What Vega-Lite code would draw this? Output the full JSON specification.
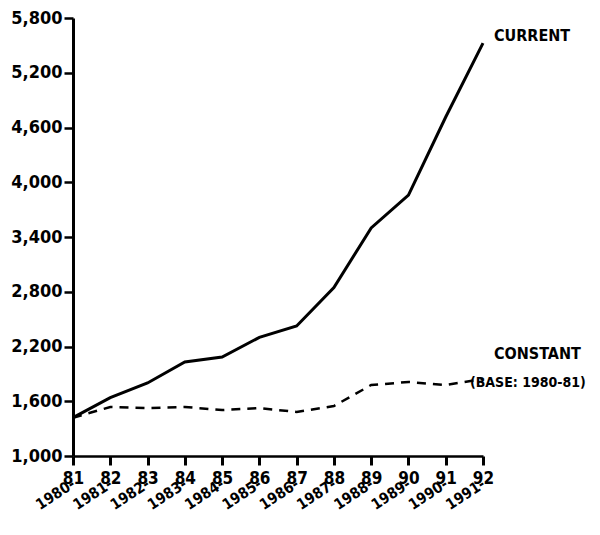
{
  "$schema": "https://vega.github.io/schema/vega-lite/v6.json",
  "autosize": "none",
  "padding": {"left": 73, "top": 18, "right": 117, "bottom": 79},
  "width": 410,
  "height": 438,
  "background": "white",
  "config": {
    "view": {"stroke": null},
    "font": "DejaVu Sans Condensed",
    "axis": {"grid": false, "domainColor": "black", "tickColor": "black", "labelColor": "black", "labelFont": "DejaVu Sans Condensed", "labelFontWeight": "bold"}
  },
  "datasets": {
    "main": [
      {"period": "1980-81", "series": "Current", "value": 1420},
      {"period": "1981-82", "series": "Current", "value": 1640},
      {"period": "1982-83", "series": "Current", "value": 1800},
      {"period": "1983-84", "series": "Current", "value": 2030},
      {"period": "1984-85", "series": "Current", "value": 2085},
      {"period": "1985-86", "series": "Current", "value": 2300},
      {"period": "1986-87", "series": "Current", "value": 2425},
      {"period": "1987-88", "series": "Current", "value": 2845},
      {"period": "1988-89", "series": "Current", "value": 3500},
      {"period": "1989-90", "series": "Current", "value": 3860},
      {"period": "1990-91", "series": "Current", "value": 4715},
      {"period": "1991-92", "series": "Current", "value": 5525},
      {"period": "1980-81", "series": "Constant", "value": 1420},
      {"period": "1981-82", "series": "Constant", "value": 1537},
      {"period": "1982-83", "series": "Constant", "value": 1526},
      {"period": "1983-84", "series": "Constant", "value": 1537},
      {"period": "1984-85", "series": "Constant", "value": 1504},
      {"period": "1985-86", "series": "Constant", "value": 1526},
      {"period": "1986-87", "series": "Constant", "value": 1482},
      {"period": "1987-88", "series": "Constant", "value": 1548},
      {"period": "1988-89", "series": "Constant", "value": 1778},
      {"period": "1989-90", "series": "Constant", "value": 1811},
      {"period": "1990-91", "series": "Constant", "value": 1778},
      {"period": "1991-92", "series": "Constant", "value": 1844}
    ],
    "notes": [
      {"period": "1991-92", "value": 5600, "label": "CURRENT"},
      {"period": "1991-92", "value": 2120, "label": "CONSTANT"}
    ],
    "base": [
      {"period": "1991-92", "value": 1800, "label": "(BASE: 1980-81)"}
    ]
  },
  "layer": [
    {
      "data": {"name": "main"},
      "transform": [{"filter": "datum.series === 'Current'"}],
      "mark": {"type": "line", "color": "black", "strokeWidth": 3},
      "encoding": {
        "x": {"field": "period", "type": "ordinal", "sort": null,
          "scale": {"type": "point", "padding": 0},
          "axis": {"title": null, "orient": "bottom", "labelAngle": 0, "labelBaseline": "top", "labelExpr": "split(datum.value, '-')[1]", "labelFontSize": 17, "labelPadding": 5, "tickSize": 9, "tickWidth": 3, "domainWidth": 2.5, "labelAlign": "center", "ticks": true}},
        "y": {"field": "value", "type": "quantitative",
          "scale": {"domain": [1000, 5800], "nice": false, "zero": false},
          "axis": {"title": null, "values": [1000, 1600, 2200, 2800, 3400, 4000, 4600, 5200, 5800], "labelExpr": "format(datum.value, ',')", "labelFontSize": 18, "tickSize": 9, "tickWidth": 2.5, "domainWidth": 3, "labelPadding": 2}}
      }
    },
    {
      "data": {"name": "main"},
      "transform": [{"filter": "datum.series === 'Constant'"}],
      "mark": {"type": "line", "color": "black", "strokeWidth": 2.5, "strokeDash": [9, 7]},
      "encoding": {
        "x": {"field": "period", "type": "ordinal", "sort": null,
          "scale": {"type": "point", "padding": 0},
          "axis": {"title": null, "orient": "bottom", "labelAngle": -33, "labelAlign": "right", "labelBaseline": "middle", "labelExpr": "split(datum.value, '-')[0] + '-'", "labelFontSize": 15, "ticks": false, "domain": false, "offset": 0, "labelPadding": 26, "labelDx": -18}},
        "y": {"field": "value", "type": "quantitative", "scale": {"domain": [1000, 5800], "nice": false, "zero": false}}
      }
    },
    {
      "data": {"name": "notes"},
      "mark": {"type": "text", "align": "left", "baseline": "middle", "fontSize": 16, "fontWeight": "bold", "font": "DejaVu Sans Condensed", "color": "black", "dx": 11},
      "encoding": {
        "x": {"field": "period", "type": "ordinal", "scale": {"type": "point", "padding": 0, "domain": ["1980-81", "1981-82", "1982-83", "1983-84", "1984-85", "1985-86", "1986-87", "1987-88", "1988-89", "1989-90", "1990-91", "1991-92"]}, "axis": null},
        "y": {"field": "value", "type": "quantitative", "scale": {"domain": [1000, 5800], "nice": false, "zero": false}},
        "text": {"field": "label"}
      }
    },
    {
      "data": {"name": "base"},
      "mark": {"type": "text", "align": "left", "baseline": "middle", "fontSize": 14, "fontWeight": "bold", "font": "DejaVu Sans Condensed", "color": "black", "dx": -13},
      "encoding": {
        "x": {"field": "period", "type": "ordinal", "scale": {"type": "point", "padding": 0, "domain": ["1980-81", "1981-82", "1982-83", "1983-84", "1984-85", "1985-86", "1986-87", "1987-88", "1988-89", "1989-90", "1990-91", "1991-92"]}, "axis": null},
        "y": {"field": "value", "type": "quantitative", "scale": {"domain": [1000, 5800], "nice": false, "zero": false}},
        "text": {"field": "label"}
      }
    }
  ],
  "resolve": {"scale": {"x": "independent"}, "axis": {"x": "independent"}}
}
